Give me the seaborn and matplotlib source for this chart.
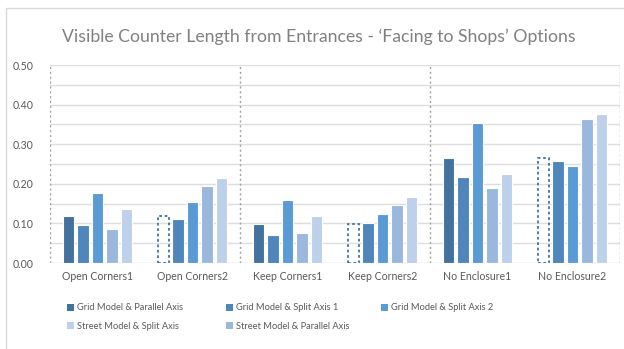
import matplotlib
matplotlib.use("Agg")
import matplotlib.pyplot as plt
from matplotlib.patches import Rectangle, Patch
import seaborn as sns
import pandas as pd

categories = ["Open Corners1", "Open Corners2", "Keep Corners1",
              "Keep Corners2", "No Enclosure1", "No Enclosure2"]

# Series values per category (Grid Model & Parallel Axis has one value per option pair)
grid_parallel = [0.118, 0.118, 0.098, 0.098, 0.266, 0.266]
grid_split1 = [0.096, 0.112, 0.070, 0.100, 0.216, 0.257]
grid_split2 = [0.177, 0.154, 0.158, 0.123, 0.353, 0.245]
street_parallel = [0.087, 0.194, 0.077, 0.146, 0.189, 0.364]
street_split = [0.136, 0.214, 0.118, 0.166, 0.225, 0.376]

series_names = ["Grid Model & Parallel Axis", "Grid Model & Split Axis 1",
                "Grid Model & Split Axis 2", "Street Model & Parallel Axis",
                "Street Model & Split Axis"]
series_values = [grid_parallel, grid_split1, grid_split2, street_parallel, street_split]
colors = ["#44729e", "#4f87bd", "#5b9bd5", "#9ab8de", "#bed1eb"]

rows = []
for name, vals in zip(series_names, series_values):
    for cat, v in zip(categories, vals):
        rows.append({"category": cat, "series": name, "value": v})
df = pd.DataFrame(rows)

sns.set_theme(style="white")
plt.rcParams["font.family"] = ["Lato", "DejaVu Sans"]

fig = plt.figure(figsize=(6.24, 3.49), dpi=100)
ax = fig.add_axes([50 / 624, 1 - 263 / 349, 570 / 624, 198 / 349])

sns.barplot(data=df, x="category", y="value", hue="series",
            order=categories, hue_order=series_names,
            palette=colors, width=0.76, gap=0.2,
            edgecolor="white", linewidth=0.8, saturation=1,
            errorbar=None, legend=False, ax=ax)

# Repeated Grid Parallel values in the second option of each pair: outline only
gp_patches = ax.containers[0]
for i, p in enumerate(gp_patches):
    if i % 2 == 1:
        p.set_facecolor("none")
        p.set_edgecolor("#44729e")
        p.set_linestyle((0, (1.5, 1.5)))
        p.set_linewidth(1.3)

ax.set_ylim(0, 0.5)
ax.set_xlim(-0.5, len(categories) - 0.5)
ax.set_yticks([0, 0.1, 0.2, 0.3, 0.4, 0.5])
ax.set_yticklabels([f"{t:.2f}" for t in [0, 0.1, 0.2, 0.3, 0.4, 0.5]])
for y in [0.05 * k for k in range(1, 11)]:
    ax.axhline(y, color="#dedede", lw=1.0, zorder=0)
ax.axhline(0, color="#d0d0d0", lw=1.0, zorder=0.5)
for x in [-0.5, 1.5, 3.5, 5.5]:
    ax.axvline(x, color="#a0a0a0", lw=1.0, ls=(0, (1.5, 2)), zorder=0.6)

for s in ax.spines.values():
    s.set_visible(False)
ax.tick_params(axis="both", length=0, labelsize=7.6, colors="#595959")
ax.tick_params(axis="y", pad=12)
ax.tick_params(axis="x", pad=6)
ax.set_xlabel("")
ax.set_ylabel("")

fig.text(318.5 / 624, 1 - 37 / 349,
         "Visible Counter Length from Entrances - \u2018Facing to Shops\u2019 Options",
         ha="center", va="center", fontsize=12.7, color="#808080")

# Legend laid out in three columns, filled row by row
handles = {n: Patch(facecolor=c, edgecolor="none") for n, c in zip(series_names, colors)}
legend_columns = [
    (67, ["Grid Model & Parallel Axis", "Street Model & Split Axis"]),
    (226, ["Grid Model & Split Axis 1", "Street Model & Parallel Axis"]),
    (381, ["Grid Model & Split Axis 2"]),
]
for x_px, names in legend_columns:
    leg = fig.legend([handles[n] for n in names], names, ncol=1,
                     loc="upper left", bbox_to_anchor=(x_px / 624, 1 - 303.5 / 349),
                     frameon=False, fontsize=6.7, handlelength=0.8, handleheight=0.8,
                     handletextpad=0.25, labelspacing=1.0,
                     borderaxespad=0, borderpad=0)
    for t in leg.get_texts():
        t.set_color("#595959")

fig.patches.append(Rectangle((6 / 624, -0.1), 1.2, 1.1 - 8 / 349,
                             transform=fig.transFigure, fill=False,
                             edgecolor="#d9d9d9", lw=1.0))

fig.savefig("out.png", dpi=100, facecolor="white")
